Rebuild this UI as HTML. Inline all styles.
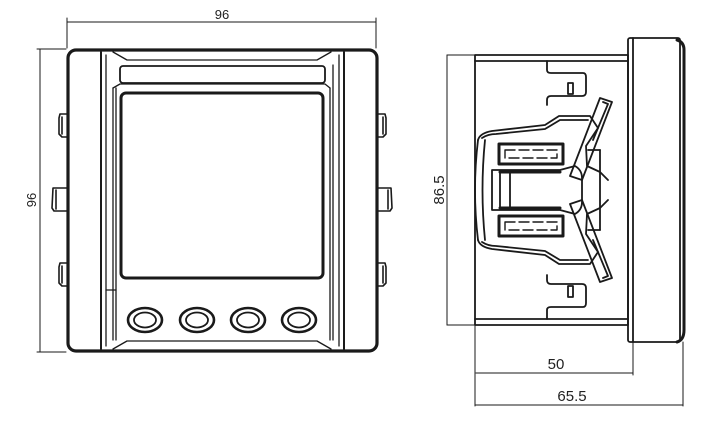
<!DOCTYPE html>
<html><head><meta charset="utf-8"><style>
html,body{margin:0;padding:0;background:#fff;width:718px;height:436px;overflow:hidden}
text{font-family:"Liberation Sans",sans-serif;fill:#222;stroke:none}
</style></head><body>
<svg width="718" height="436" viewBox="0 0 718 436" xmlns="http://www.w3.org/2000/svg" fill="none" stroke="#1a1a1a" stroke-linejoin="round" stroke-linecap="round">
<g stroke-width="1">
<line x1="67" y1="22" x2="376" y2="22"/><line x1="67" y1="18" x2="67" y2="48"/><line x1="376" y1="18" x2="376" y2="48"/>
<line x1="40" y1="49" x2="40" y2="352"/><line x1="37" y1="49" x2="66" y2="49"/><line x1="37" y1="352" x2="66" y2="352"/>
</g>
<text x="222" y="19" font-size="13" text-anchor="middle">96</text>
<text x="0" y="0" font-size="13" text-anchor="middle" transform="translate(36,200) rotate(-90)">96</text>
<rect x="68" y="50" width="309" height="301" rx="8" stroke-width="3.2"/>
<g stroke-width="2">
<line x1="101" y1="52" x2="101" y2="349"/><line x1="344" y1="52" x2="344" y2="349"/>
</g>
<g stroke-width="1.3">
<line x1="106" y1="55" x2="106" y2="346"/><line x1="113" y1="88" x2="113" y2="340"/><line x1="116" y1="88" x2="116" y2="340"/>
<line x1="339" y1="55" x2="339" y2="346"/><line x1="333" y1="65" x2="333" y2="340"/><line x1="330" y1="88" x2="330" y2="340"/>
<path d="M113,52 L127,60 L317,60 L331,52"/>
<path d="M113,349 L127,341 L317,341 L331,349"/>
<path d="M113,88 L120,84 L325,84 L330,88"/>
<line x1="106" y1="290" x2="116" y2="290"/>
</g>
<rect x="120" y="66" width="205" height="17" rx="3" stroke-width="1.8"/>
<rect x="121" y="93" width="202" height="185" rx="5" stroke-width="3"/>
<g stroke-width="2.6">
<ellipse cx="145" cy="320" rx="17" ry="12"/><ellipse cx="145" cy="320" rx="11" ry="7.5" stroke-width="1.8"/>
<ellipse cx="197" cy="320" rx="17" ry="12"/><ellipse cx="197" cy="320" rx="11" ry="7.5" stroke-width="1.8"/>
<ellipse cx="248" cy="320" rx="17" ry="12"/><ellipse cx="248" cy="320" rx="11" ry="7.5" stroke-width="1.8"/>
<ellipse cx="299" cy="320" rx="17" ry="12"/><ellipse cx="299" cy="320" rx="11" ry="7.5" stroke-width="1.8"/>
</g>
<g stroke-width="1.6">
<path d="M67,114 L60,114 L59,118 L59,134 L62,137 L67,137"/><line x1="62" y1="117" x2="62" y2="134"/>
<path d="M67,188 L53,188 L52,208 L54,211 L67,211"/><line x1="56" y1="190" x2="56" y2="209"/>
<path d="M67,263 L60,263 L59,267 L59,283 L62,286 L67,286"/><line x1="62" y1="266" x2="62" y2="283"/>
<path d="M378,114 L385,114 L386,118 L386,134 L383,137 L378,137"/><line x1="383" y1="117" x2="383" y2="134"/>
<path d="M378,188 L391,188 L392,208 L390,211 L378,211"/><line x1="388" y1="190" x2="388" y2="209"/>
<path d="M378,263 L385,263 L386,267 L386,283 L383,286 L378,286"/><line x1="383" y1="266" x2="383" y2="283"/>
</g>
<g stroke-width="1">
<line x1="447" y1="55" x2="447" y2="325"/><line x1="447" y1="55" x2="476" y2="55"/><line x1="447" y1="325" x2="476" y2="325"/>
<line x1="475" y1="325" x2="475" y2="406"/><line x1="633" y1="342" x2="633" y2="375"/><line x1="683" y1="342" x2="683" y2="406"/>
<line x1="476" y1="373" x2="633" y2="373"/><line x1="475" y1="405" x2="683" y2="405"/>
</g>
<text x="0" y="0" font-size="15" text-anchor="middle" transform="translate(444,190) rotate(-90)">86.5</text>
<text x="556" y="369" font-size="15" text-anchor="middle">50</text>
<text x="572" y="401" font-size="15" text-anchor="middle">65.5</text>
<g stroke-width="1.8">
<rect x="475" y="55" width="153" height="270"/>
<line x1="475" y1="61" x2="628" y2="61"/><line x1="475" y1="319" x2="628" y2="319"/>
<rect x="628" y="38" width="52" height="304" rx="2"/>
<line x1="633" y1="38" x2="633" y2="342"/>
<path d="M677,40 Q684,42 684,50 L684,330 Q684,340 677,342" stroke-width="3"/>
<path d="M547,61 L547,70 Q547,73 551,73 L583,73 Q586,73 586,77 L586,92 Q586,96 582,96 L551,96 Q547,96 547,100 L547,105"/>
<path d="M547,319 L547,310 Q547,307 551,307 L583,307 Q586,307 586,303 L586,288 Q586,284 582,284 L551,284 Q547,284 547,280 L547,275"/>
<rect x="568" y="83" width="5" height="11"/><rect x="568" y="286" width="5" height="11"/>
<path d="M478,140 Q480,133 492,131 L545,125 L559,116 L590,116 L598,128 L586,146 L587,166 L600,172 L608,180"/>
<path d="M478,240 Q480,247 492,249 L545,255 L559,264 L590,264 L598,252 L586,234 L587,214 L600,208 L608,200"/>
<path d="M482,138 Q488,134 496,134 L545,129 L560,120 L588,120"/>
<path d="M482,242 Q488,246 496,246 L545,251 L560,260 L588,260"/>
<path d="M478,140 Q472,190 478,240"/><path d="M485,140 Q480,190 485,240"/>
<path d="M492,170 L560,170 L575,166 Q582,170 582,178 L582,202 Q582,210 575,214 L560,210 L492,210 Z"/>
<line x1="500" y1="172" x2="500" y2="208"/><line x1="510" y1="172" x2="510" y2="208"/>
<line x1="600" y1="150" x2="600" y2="230"/><line x1="588" y1="150" x2="600" y2="150"/><line x1="588" y1="230" x2="600" y2="230"/>
<path d="M600,98 L612,102 L582,180 L570,176 Z"/><path d="M603,102 L608,104 L593,140"/>
<path d="M600,282 L612,278 L582,200 L570,204 Z"/><path d="M603,278 L608,276 L593,240"/>
</g>
<rect x="499" y="144" width="64" height="20" stroke-width="3"/>
<rect x="505" y="150" width="52" height="8" stroke-width="1.4" stroke-dasharray="10 4"/>
<rect x="499" y="216" width="64" height="20" stroke-width="3"/>
<rect x="505" y="222" width="52" height="8" stroke-width="1.4" stroke-dasharray="10 4"/>
<line x1="500" y1="172" x2="560" y2="172" stroke-width="3"/>
<line x1="500" y1="208" x2="560" y2="208" stroke-width="3"/>
</svg>
</body></html>
